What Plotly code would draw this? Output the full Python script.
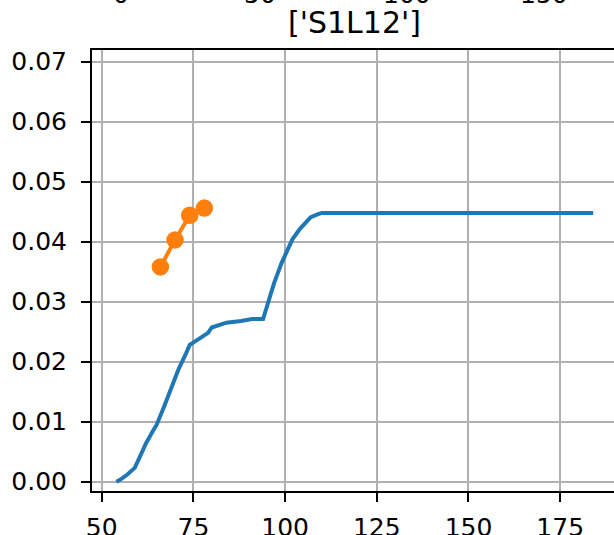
import plotly.graph_objects as go

# Blue curve
blue_x = [54, 55, 57, 59, 60, 62, 64, 65, 67, 69, 71, 73, 74, 76, 78, 79, 80, 84, 88, 91, 94,
          96, 97, 99, 101, 102, 104, 106, 107, 109, 110, 115, 125, 150, 175, 184]
blue_y = [0.0000, 0.0003, 0.0012, 0.0023, 0.0036, 0.0063, 0.0085, 0.0095, 0.0125, 0.0157,
          0.0188, 0.0214, 0.0228, 0.0236, 0.0245, 0.0248, 0.0257, 0.0265, 0.0268, 0.0271, 0.0271,
          0.0310, 0.0331, 0.0364, 0.0392, 0.0404, 0.0421, 0.0434, 0.0441, 0.0446, 0.0448,
          0.0448, 0.0448, 0.0448, 0.0448, 0.0448]

# Orange points
orange_x = [66, 70, 74, 78]
orange_y = [0.0358, 0.0403, 0.0444, 0.0456]

title_text = "['S1L12']"
x_ticks = [50, 75, 100, 125, 150, 175]
y_ticks = [0.00, 0.01, 0.02, 0.03, 0.04, 0.05, 0.06, 0.07]
y_tick_labels = ["0.00", "0.01", "0.02", "0.03", "0.04", "0.05", "0.06", "0.07"]
# cut-off tick labels of the subplot above
above_labels = ["0", "50", "100", "150"]
above_label_px = [121, 260, 407, 544]

W, H = 614, 535
L, R, T, B = 92, 0, 50, 44
plot_w = W - L - R
plot_h = H - T - B

fig = go.Figure()
fig.add_trace(go.Scatter(x=blue_x, y=blue_y, mode="lines",
                         line=dict(color="#1f77b4", width=4), showlegend=False))
fig.add_trace(go.Scatter(x=orange_x, y=orange_y, mode="lines+markers",
                         line=dict(color="#ff7f0e", width=4),
                         marker=dict(color="#ff7f0e", size=15, line=dict(color="#ff7f0e", width=2.5)),
                         showlegend=False))

font = dict(family="DejaVu Sans", size=25, color="black")

annotations = []
for lab, px in zip(above_labels, above_label_px):
    annotations.append(dict(text=lab, x=(px - L) / plot_w, xref="paper",
                            y=1 + (T + 6) / plot_h, yref="paper",
                            xanchor="center", yanchor="middle", showarrow=False,
                            font=font))
annotations.append(dict(text=title_text, x=(354 - L) / plot_w, xref="paper",
                        y=1 + (T - 42) / plot_h, yref="paper",
                        xanchor="center", yanchor="bottom", showarrow=False,
                        font=dict(family="DejaVu Sans", size=30, color="black")))

fig.update_layout(
    width=W, height=H,
    margin=dict(l=L, r=R, t=T, b=B, pad=0),
    paper_bgcolor="white", plot_bgcolor="white",
    font=font,
    annotations=annotations,
    xaxis=dict(range=[47.36, 189.67], tickvals=x_ticks, ticks="outside", ticklen=9, tickwidth=2,
               tickcolor="black", showline=True, linecolor="black", linewidth=2, mirror=True,
               showgrid=True, gridcolor="#b0b0b0", gridwidth=2, zeroline=False,
               tickfont=font, ticklabelstandoff=4, automargin=False),
    yaxis=dict(range=[-0.00155, 0.07195], tickvals=y_ticks, ticktext=y_tick_labels,
               ticks="outside", ticklen=9, tickwidth=2, tickcolor="black",
               showline=True, linecolor="black", linewidth=2, mirror=False,
               showgrid=True, gridcolor="#b0b0b0", gridwidth=2, zeroline=False,
               tickfont=font, ticklabelstandoff=9, automargin=False),
)

fig.write_html("out.html", config={"displayModeBar": False},
               post_script="document.body.style.margin='0';document.body.style.overflow='hidden';")
